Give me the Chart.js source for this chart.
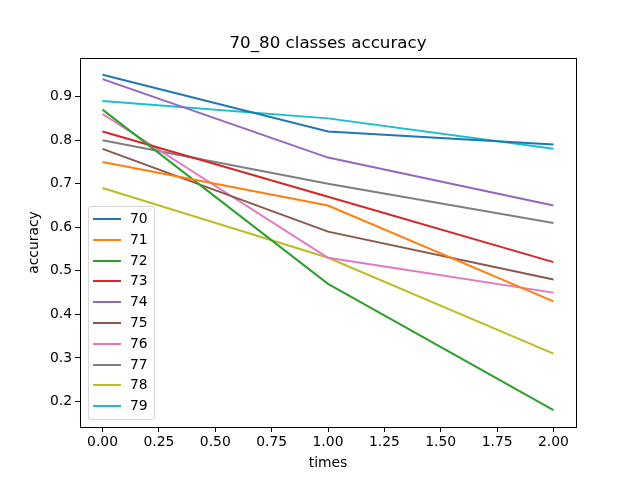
<!DOCTYPE html>
<html>
<head>
<meta charset="utf-8">
<script src="https://cdn.jsdelivr.net/npm/chart.js@4"></script>
<style>
  body { margin: 0; background: #fff; }
  #wrap { position: relative; width: 640px; height: 480px; }
  #legend {
    position: absolute; left: 88px; top: 206px; width: 65px; height: 212px;
    border: 1px solid #d6d6d6; border-radius: 3px; background: rgba(255,255,255,0.8);
    font-family: "DejaVu Sans", sans-serif; font-size: 13.9px; color: #000;
  }
  .row { position: absolute; left: 0; height: 20px; width: 65px; }
  .row .sw { position: absolute; left: 4px; top: 9px; width: 28px; height: 2px; }
  .row .tx { position: absolute; left: 41px; top: 1px; line-height: 17px; }
</style>
</head>
<body>
<div id="wrap">
  <canvas id="accChart" width="640" height="480"></canvas>
  <div id="legend"></div>
</div>
<script>
// x positions (times)
const times = [0, 1, 2];
const classNames = ['70', '71', '72', '73', '74', '75', '76', '77', '78', '79'];

const acc70 = [0.95, 0.82, 0.79];
const acc71 = [0.75, 0.65, 0.43];
const acc72 = [0.87, 0.47, 0.18];
const acc73 = [0.82, 0.67, 0.52];
const acc74 = [0.94, 0.76, 0.65];
const acc75 = [0.78, 0.59, 0.48];
const acc76 = [0.86, 0.53, 0.45];
const acc77 = [0.80, 0.70, 0.61];
const acc78 = [0.69, 0.53, 0.31];
const acc79 = [0.89, 0.85, 0.78];

const xTicks = [0, 0.25, 0.5, 0.75, 1.0, 1.25, 1.5, 1.75, 2.0];
const yTicks = [0.2, 0.3, 0.4, 0.5, 0.6, 0.7, 0.8, 0.9];

const allSeries = [acc70, acc71, acc72, acc73, acc74, acc75, acc76, acc77, acc78, acc79];
const colors = ['#1f77b4', '#ff7f0e', '#2ca02c', '#d62728', '#9467bd',
                '#8c564b', '#e377c2', '#7f7f7f', '#bcbd22', '#17becf'];

const font = { family: 'DejaVu Sans', size: 13.9 };

// frame around the plot area, like matplotlib spines
const framePlugin = {
    id: 'frame',
    afterDraw(chart) {
        const { ctx, chartArea: a } = chart;
        ctx.save();
        ctx.strokeStyle = '#000';
        ctx.lineWidth = 1;
        ctx.strokeRect(Math.round(a.left) + 0.5, Math.round(a.top) + 0.5,
                       Math.round(a.right - a.left), Math.round(a.bottom - a.top));
        ctx.restore();
    }
};

const ctx = document.getElementById('accChart').getContext('2d');
const chart = new Chart(ctx, {
    type: 'line',
    data: {
        datasets: allSeries.map((vals, i) => ({
            label: classNames[i],
            data: times.map((t, j) => ({ x: t, y: vals[j] })),
            borderColor: colors[i],
            backgroundColor: colors[i],
            borderWidth: 2,
            pointRadius: 0,
            tension: 0,
            fill: false
        }))
    },
    options: {
        responsive: false,
        animation: false,
        devicePixelRatio: 1,
        layout: { padding: { left: 20, right: 64, top: 0, bottom: 0 } },
        plugins: {
            legend: { display: false },
            tooltip: { enabled: false },
            title: {
                display: true,
                fullSize: false,
                text: '70_80 classes accuracy',
                color: '#000',
                font: { family: 'DejaVu Sans', size: 16.7, weight: 'normal', lineHeight: 1.2 },
                padding: { top: 34, bottom: 4 }
            }
        },
        scales: {
            x: {
                type: 'linear',
                min: -0.1,
                max: 2.1,
                afterBuildTicks: s => { s.ticks = xTicks.map(v => ({ value: v })); },
                afterFit: s => { s.height = 53; },
                grid: { drawOnChartArea: false, drawTicks: true, tickLength: 5, color: '#000' },
                border: { display: true, color: '#000' },
                ticks: { color: '#000', font, padding: 2, maxRotation: 0,
                         callback: v => Number(v).toFixed(2) },
                title: { display: true, text: 'times', color: '#000', font, padding: { top: 0, bottom: 8 } }
            },
            y: {
                type: 'linear',
                min: 0.1415,
                max: 0.9885,
                afterBuildTicks: s => { s.ticks = yTicks.map(v => ({ value: v })); },
                afterFit: s => { s.width = 60; },
                grid: { drawOnChartArea: false, drawTicks: true, tickLength: 5, color: '#000' },
                border: { display: true, color: '#000' },
                ticks: { color: '#000', font, padding: 3,
                         callback: v => Number(v).toFixed(1) },
                title: { display: true, text: 'accuracy', color: '#000', font, padding: { top: 6, bottom: 0 } }
            }
        }
    },
    plugins: [framePlugin]
});

// legend inside the axes, lower left
const legend = document.getElementById('legend');
classNames.forEach((name, i) => {
    const row = document.createElement('div');
    row.className = 'row';
    row.style.top = (2 + i * 20.8) + 'px';
    row.innerHTML = '<div class="sw" style="background:' + colors[i] + '"></div><div class="tx">' + name + '</div>';
    legend.appendChild(row);
});
</script>
</body>
</html>
